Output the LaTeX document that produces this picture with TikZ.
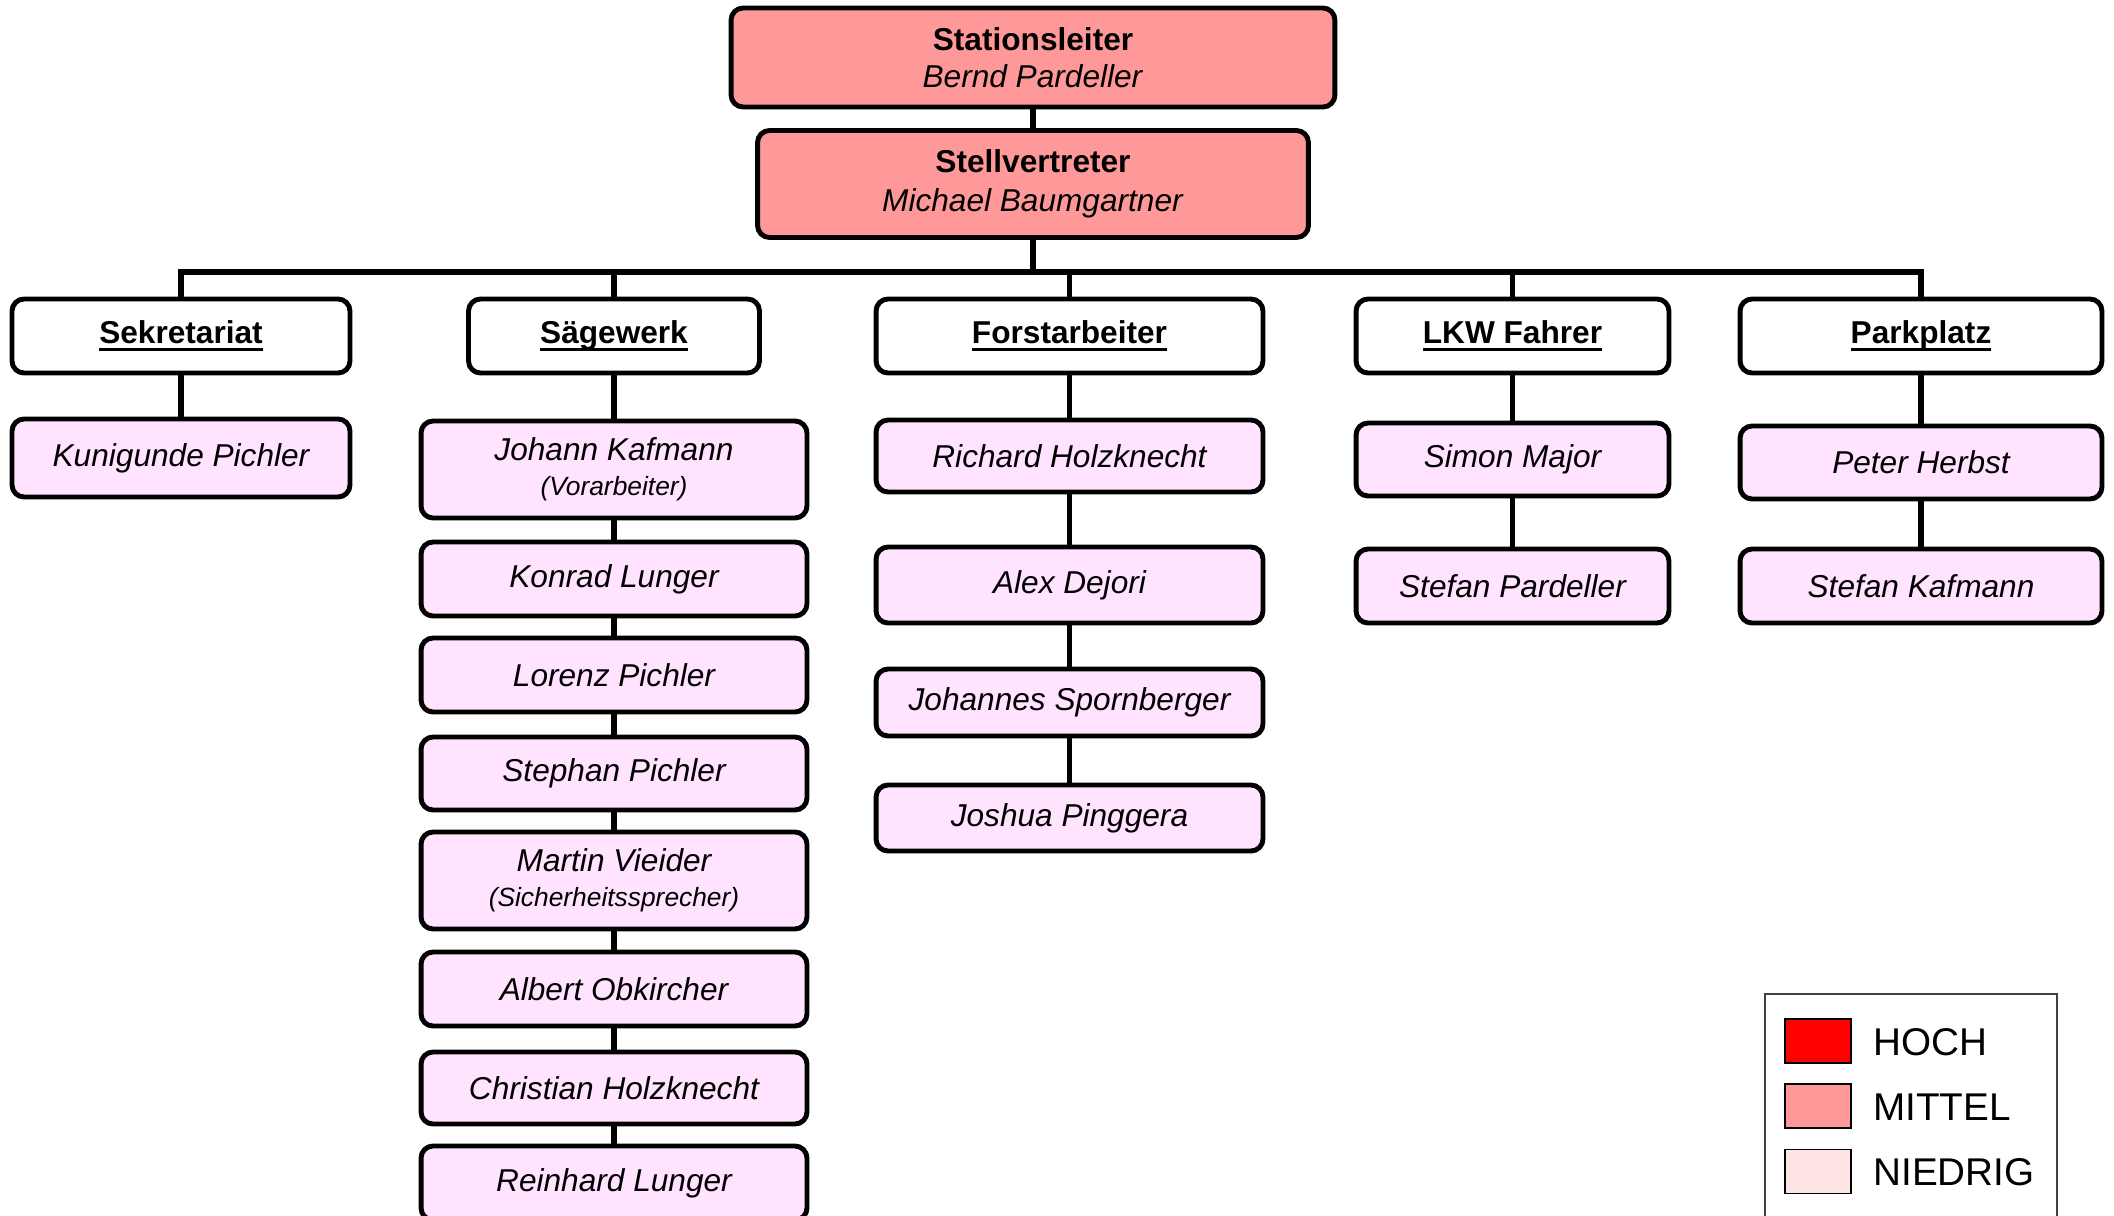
\documentclass[tikz,border=0pt]{standalone}
\usepackage{fontspec}
\setmainfont{Liberation Sans}
\definecolor{hoch}{HTML}{FF0000}
\definecolor{mittel}{HTML}{FF9999}
\definecolor{niedrig}{HTML}{FFE4E4}
\definecolor{staff}{HTML}{FFE3FF}
\newsavebox{\deptbox}
\newcommand{\dept}[1]{\sbox{\deptbox}{\bfseries #1}\rlap{\rule[-4pt]{\wd\deptbox}{1.5pt}}\usebox{\deptbox}}
\newcommand{\rolenote}[1]{\\[-1pt]{\fontsize{15}{17}\selectfont(#1)}}
\tikzset{
  box/.style={draw, line width=2.8pt, rounded corners=0.24cm, inner sep=0pt, align=center, font=\fontsize{18}{21}\selectfont},
  boss/.style={box, fill=mittel},
  unit/.style={box, fill=white, minimum height=1.48cm},
  person/.style={box, fill=staff, font=\fontsize{18}{21}\selectfont\itshape},
  link/.style={line width=2.9pt},
  swatch/.style={draw, line width=0.9pt, minimum width=1.32cm, minimum height=0.88cm, inner sep=0pt},
  key/.style={anchor=west, inner sep=0pt, font=\fontsize{22}{26}\selectfont},
}

\begin{document}
\begin{tikzpicture}[x=0.02cm, y=-0.02cm]
\clip (0,0) rectangle (2114,1215);

% leitung
\node[boss, minimum width=12.08cm, minimum height=1.98cm] (chef) at (1033,57.5) {\textbf{Stationsleiter}\\\textit{Bernd Pardeller}};
\node[boss, minimum width=11.02cm, minimum height=2.14cm] (vize) at (1033,184) {\textbf{Stellvertreter}\\[1pt]\textit{Michael Baumgartner}};
\coordinate (bus) at (1033,272);

% abteilungen
\node[unit, minimum width=6.76cm] (sek) at (181,336) {\dept{Sekretariat}};
\node[unit, minimum width=5.82cm] (saeg) at (614,336) {\dept{Sägewerk}};
\node[unit, minimum width=7.74cm] (forst) at (1069.5,336) {\dept{Forstarbeiter}};
\node[unit, minimum width=6.26cm] (lkw) at (1512.5,336) {\dept{LKW Fahrer}};
\node[unit, minimum width=7.24cm] (park) at (1921,336) {\dept{Parkplatz}};

% mitarbeiter
\node[person, minimum width=6.76cm, minimum height=1.56cm] (kuni) at (181,458) {Kunigunde Pichler};

\node[person, minimum width=7.72cm, minimum height=1.94cm] (johann) at (614,469.5) {Johann Kafmann\rolenote{Vorarbeiter}};
\node[person, minimum width=7.72cm, minimum height=1.48cm] (konrad) at (614,579) {Konrad Lunger};
\node[person, minimum width=7.72cm, minimum height=1.48cm] (lorenz) at (614,675) {Lorenz Pichler};
\node[person, minimum width=7.72cm, minimum height=1.46cm] (stephan) at (614,773.5) {Stephan Pichler};
\node[person, minimum width=7.72cm, minimum height=1.94cm] (martin) at (614,880.5) {Martin Vieider\rolenote{Sicherheitssprecher}};
\node[person, minimum width=7.72cm, minimum height=1.48cm] (albert) at (614,989) {Albert Obkircher};
\node[person, minimum width=7.72cm, minimum height=1.44cm] (christian) at (614,1088) {Christian Holzknecht};
\node[person, minimum width=7.72cm, minimum height=1.48cm] (reinhard) at (614,1183) {Reinhard Lunger};

\node[person, minimum width=7.74cm, minimum height=1.44cm] (richard) at (1069.5,456) {Richard Holzknecht};
\node[person, minimum width=7.74cm, minimum height=1.52cm] (alex) at (1069.5,585) {Alex Dejori};
\node[person, minimum width=7.74cm, minimum height=1.34cm] (johannes) at (1069.5,702.5) {Johannes Spornberger};
\node[person, minimum width=7.74cm, minimum height=1.32cm] (joshua) at (1069.5,818) {Joshua Pinggera};

\node[person, minimum width=6.26cm, minimum height=1.46cm] (simon) at (1512.5,459.5) {Simon Major};
\node[person, minimum width=6.26cm, minimum height=1.48cm] (stefanp) at (1512.5,586) {Stefan Pardeller};

\node[person, minimum width=7.24cm, minimum height=1.46cm] (peter) at (1921,462.5) {Peter Herbst};
\node[person, minimum width=7.24cm, minimum height=1.48cm] (stefank) at (1921,586) {Stefan Kafmann};

% verbindungen
\draw[link] (chef) -- (vize);
\draw[link] (vize) -- (bus);
\draw[link] (sek.north) |- (bus) -| (park.north);
\foreach \u in {saeg,forst,lkw}
  \draw[link] (\u.north) -- (\u.north |- bus);
\foreach \a/\b in {sek/kuni, saeg/johann, johann/konrad, konrad/lorenz, lorenz/stephan,
  stephan/martin, martin/albert, albert/christian, christian/reinhard,
  forst/richard, richard/alex, alex/johannes, johannes/joshua,
  lkw/simon, simon/stefanp, park/peter, peter/stefank}
  \draw[link] (\a.south) -- (\b.north);

% legende
\draw[line width=0.8pt, draw=black!75] (1765,994) rectangle (2057,1240);
\node[swatch, fill=hoch] (hochbox) at (1818,1041) {};
\node[swatch, fill=mittel] (mittelbox) at (1818,1106) {};
\node[swatch, fill=niedrig] (niedrigbox) at (1818,1171.5) {};
\node[key] (hochtxt) at (1873,1042) {HOCH};
\node[key] (mitteltxt) at (1873,1107.5) {MITTEL};
\node[key] (niedrigtxt) at (1873,1172.5) {NIEDRIG};
\end{tikzpicture}
\end{document}
